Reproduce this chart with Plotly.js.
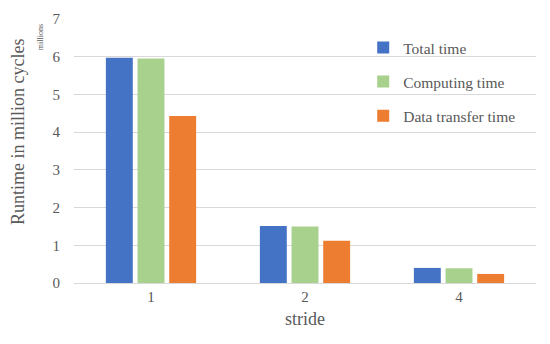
<!DOCTYPE html>
<html><head><meta charset="utf-8">
<script src="https://cdn.plot.ly/plotly-3.0.1.min.js"></script>
<style>html,body{margin:0;padding:0;background:#fff}#chart{width:550px;height:344px}</style>
</head><body><div id="chart"></div>
<script>
const categories = ["1", "2", "4"];
const totalTime = [5.97, 1.51, 0.40];
const computingTime = [5.95, 1.50, 0.39];
const dataTransferTime = [4.43, 1.12, 0.24];
const seriesNames = ["Total time", "Computing time", "Data transfer time"];
const colors = ["#4472C4", "#A9D18E", "#ED7D31"];
const values = [totalTime, computingTime, dataTransferTime];

const traces = values.map((v, i) => ({
  type: "bar", x: categories, y: v, name: seriesNames[i],
  legendgroup: "g" + i,
  marker: {color: colors[i]}, hoverinfo: "none"
}));

const FAM = "Liberation Serif";
const GREY = "#595959";
function f(s) { return {family: FAM, size: s, color: GREY}; }
const layout = {
  width: 550, height: 344,
  margin: {l: 74, r: 14, t: 19, b: 61},
  paper_bgcolor: "#fff", plot_bgcolor: "#fff",
  font: {family: FAM, size: 15, color: GREY},
  barmode: "group", bargap: 0.383, bargroupgap: 0.15,
  xaxis: {type: "category", showgrid: false, showline: true, linecolor: "#d9d9d9", linewidth: 1,
    ticks: "", tickfont: f(15),
    title: {text: "stride", font: f(18), standoff: 8}},
  yaxis: {range: [0, 7], dtick: 1, showgrid: true, gridcolor: "#d9d9d9", gridwidth: 1,
    zeroline: false, showline: false, ticks: "outside", ticklen: 10, tickcolor: "rgba(0,0,0,0)",
    tickfont: f(15), fixedrange: true},
  showlegend: true,
  legend: {x: 0.626, y: 0.955, xanchor: "left", yanchor: "top", bgcolor: "rgba(0,0,0,0)",
    font: f(15.5), tracegroupgap: 11, itemwidth: 30},
  annotations: [
    {text: "Runtime in million cycles", xref: "paper", yref: "paper", x: -0.121, y: 0.572,
      xanchor: "center", yanchor: "middle",
      textangle: -90, showarrow: false, font: f(18)},
    {text: "millions", xref: "paper", yref: "paper", x: -0.072, y: 0.93,
      xanchor: "center", yanchor: "middle",
      textangle: -90, showarrow: false, font: f(8)}
  ]
};
Plotly.newPlot("chart", traces, layout, {displayModeBar: false, staticPlot: true});
</script></body></html>
